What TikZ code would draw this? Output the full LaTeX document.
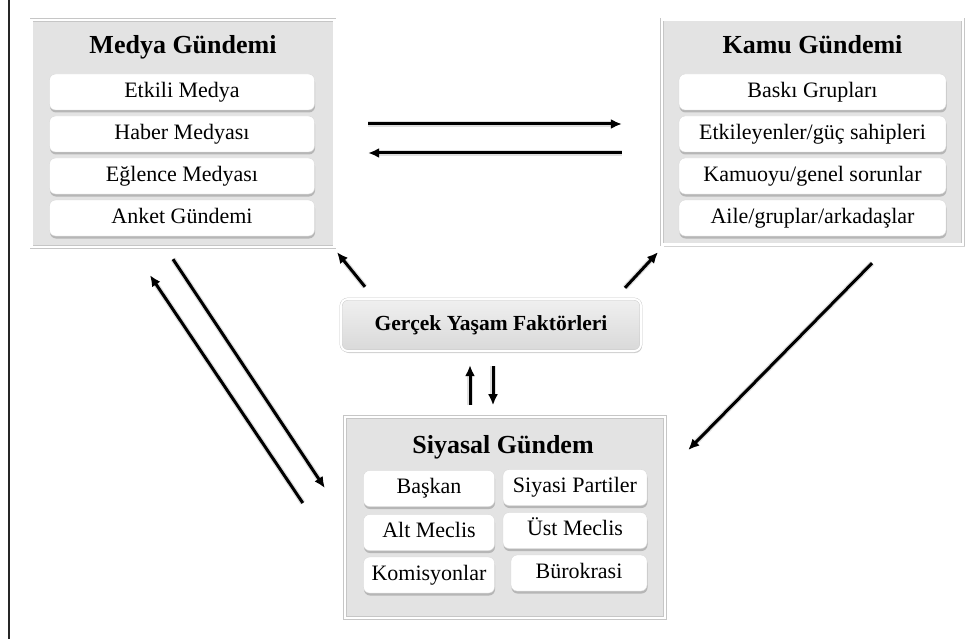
\documentclass[tikz,border=0pt]{standalone}
\usepackage{fontspec}
\setmainfont{Liberation Serif}
\usepackage{tikz}
\usetikzlibrary{arrows.meta, shadows, positioning}

\tikzset{
    grupkutu/.style={rectangle, draw=gray!45, double=white, double distance=2.5pt,
        fill=gray!22, drop shadow={opacity=0.35, shadow xshift=1.5pt, shadow yshift=-2pt}},
    baslik/.style={font=\fontsize{26}{30}\selectfont\bfseries, inner sep=0pt,
        text height=18pt, text depth=6pt},
    altkutu/.style={rectangle, rounded corners=6pt, fill=white, draw=gray!30,
        minimum height=36pt, inner sep=2pt, font=\fontsize{22}{26}\selectfont,
        text height=15.5pt, text depth=5pt,
        drop shadow={opacity=0.45, shadow xshift=0.5pt, shadow yshift=-2.5pt}},
    faktorkutu/.style={rectangle, rounded corners=7pt, draw=gray!45, double=white,
        double distance=2pt, top color=gray!12, bottom color=gray!30,
        minimum width=300pt, minimum height=52pt, font=\fontsize{21.5}{25}\selectfont\bfseries,
        drop shadow={opacity=0.35, shadow xshift=1pt, shadow yshift=-2pt}},
    ok/.style={-{Latex[length=11pt, width=10pt]}, line width=3pt, black,
        preaction={draw=gray!25, line width=5.5pt}}
}

\begin{document}
\begin{tikzpicture}[x=1pt, y=-1pt]

    \useasboundingbox (0,0) rectangle (976,639);

    % sol kenar cizgisi
    \draw[line width=1.5pt, black!85] (9,0) -- (9,639);

    % =========================================================
    % MEDYA GUNDEMI
    % =========================================================
    \node[grupkutu, minimum width=303pt, minimum height=227pt] (medya) at (183,133.5) {};
    \node[baslik] (medyabaslik) at (183,48) {Medya Gündemi};
    \foreach \ad [count=\i] in {Etkili Medya, Haber Medyası, Eğlence Medyası, Anket Gündemi} {
        \node[altkutu, minimum width=265pt] (medya\i) at (182, {50+42*\i}) {\ad};
    }

    % =========================================================
    % KAMU GUNDEMI
    % =========================================================
    \node[grupkutu, minimum width=301pt, minimum height=225pt] (kamu) at (812.5,132) {};
    \node[baslik] (kamubaslik) at (812.5,48) {Kamu Gündemi};
    \foreach \ad [count=\i] in {Baskı Grupları, Etkileyenler/güç sahipleri,
        Kamuoyu/genel sorunlar, Aile/gruplar/arkadaşlar} {
        \node[altkutu, minimum width=267pt] (kamu\i) at (812.5, {50+42*\i}) {\ad};
    }

    % =========================================================
    % GERCEK YASAM FAKTORLERI
    % =========================================================
    \node[faktorkutu] (faktor) at (491,325) {Gerçek Yaşam Faktörleri};

    % =========================================================
    % SIYASAL GUNDEM
    % =========================================================
    \node[grupkutu, minimum width=320pt, minimum height=201pt] (siyasal) at (505,517.5) {};
    \node[baslik] (siyasalbaslik) at (503,447) {Siyasal Gündem};
    \node[altkutu, minimum width=131pt] (baskan) at (429,488.5) {Başkan};
    \node[altkutu, minimum width=144pt] (partiler) at (575,487.5) {Siyasi Partiler};
    \node[altkutu, minimum width=131pt] (altmeclis) at (429,532.5) {Alt Meclis};
    \node[altkutu, minimum width=144pt] (ustmeclis) at (575,530.5) {Üst Meclis};
    \node[altkutu, minimum width=131pt] (komisyon) at (429,575) {Komisyonlar};
    \node[altkutu, minimum width=136pt] (burokrasi) at (579,573) {Bürokrasi};

    % =========================================================
    % OKLAR
    % =========================================================
    % medya <-> kamu
    \draw[ok] ([xshift=33.5pt, yshift=9.5pt]medya.east) -- ([xshift=-40pt, yshift=8pt]kamu.west);
    \draw[ok] ([xshift=-40pt, yshift=-21pt]kamu.west) -- ([xshift=33.5pt, yshift=-19.5pt]medya.east);

    % faktorler -> medya, kamu
    \draw[ok] ([xshift=-126pt, yshift=12pt]faktor.north) -- ([xshift=154pt, yshift=-5pt]medya.south);
    \draw[ok] ([xshift=134pt, yshift=11pt]faktor.north) -- ([xshift=-154.5pt, yshift=-7.5pt]kamu.south);

    % faktorler <-> siyasal
    \draw[ok] ([xshift=-21pt, yshift=-54pt]faktor.south) -- ([xshift=-21pt, yshift=-14pt]faktor.south);
    \draw[ok] ([xshift=2pt, yshift=-15pt]faktor.south) -- ([xshift=2pt, yshift=-54pt]faktor.south);

    % medya <-> siyasal
    \draw[ok] ([xshift=-10pt, yshift=-12pt]medya.south) -- ([xshift=-20pt, yshift=29.5pt]siyasal.west);
    \draw[ok] ([xshift=-42pt, yshift=14.5pt]siyasal.west) -- ([xshift=-33pt, yshift=-28pt]medya.south);

    % kamu -> siyasal
    \draw[ok] ([xshift=59.5pt, yshift=-18.5pt]kamu.south) -- ([xshift=23pt, yshift=67.5pt]siyasal.east);

\end{tikzpicture}
\end{document}
